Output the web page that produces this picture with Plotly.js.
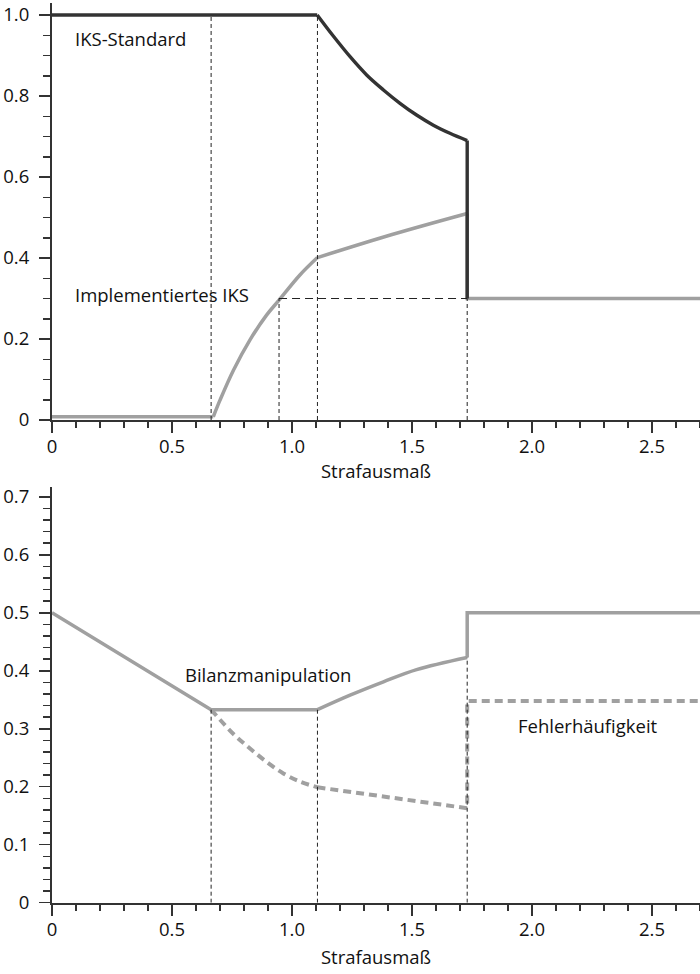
<!DOCTYPE html>
<html>
<head>
<meta charset="utf-8">
<script src="https://cdn.plot.ly/plotly-3.0.1.min.js"></script>
<style>html,body{margin:0;padding:0;background:#fff;}#chart{width:700px;height:974px;}</style>
</head>
<body>
<div id="chart"></div>
<script>
// ---- Data ----
// Top panel: IKS-Standard (dark) — flat part, curved part, drop
var stdFlatX = [0, 1.105];
var stdFlatY = [1.0, 1.0];
var stdCurveX = [1.105, 1.172, 1.242, 1.311, 1.381, 1.45, 1.519, 1.589, 1.658, 1.73];
var stdCurveY = [1.0, 0.948, 0.897, 0.852, 0.815, 0.782, 0.753, 0.728, 0.708, 0.690];
var stdDropX = [1.73, 1.73];
var stdDropY = [0.690, 0.30];
// Top panel: Implementiertes IKS (gray)
var implFlatX = [0, 0.672];
var implFlatY = [0.008, 0.008];
var implCurveX = [0.672, 0.70, 0.756, 0.825, 0.894, 0.946, 1.033, 1.106];
var implCurveY = [0.008, 0.049, 0.123, 0.198, 0.259, 0.296, 0.358, 0.401];
var implUpperX = [1.106, 1.417, 1.73];
var implUpperY = [0.401, 0.458, 0.510];
var implTailX = [1.73, 1.73, 2.7];
var implTailY = [0.510, 0.30, 0.30];
// Top panel guide lines
var topGuideVX = [0.663, 1.106];      // from 0 to 1.0
var topGuideVTop = 1.0;
var topGuide2X = [0.946, 1.73];       // from 0 to 0.3
var topGuide2Top = 0.30;

// Bottom panel: Bilanzmanipulation (solid gray)
var bilLineX = [0, 0.663, 1.106];
var bilLineY = [0.5, 0.333, 0.333];
var bilCurveX = [1.106, 1.242, 1.381, 1.519, 1.73];
var bilCurveY = [0.333, 0.358, 0.381, 0.402, 0.423];
var bilTailX = [1.73, 1.73, 2.7];
var bilTailY = [0.423, 0.50, 0.50];
// Bottom panel: Fehlerhäufigkeit (dashed gray)
var fehCurveX = [0.663, 0.756, 0.825, 0.894, 0.964, 1.033, 1.106];
var fehCurveY = [0.333, 0.291, 0.266, 0.243, 0.223, 0.209, 0.199];
var fehTailX = [1.106, 1.417, 1.73, 1.73, 2.7];
var fehTailY = [0.199, 0.181, 0.163, 0.348, 0.348];
// Bottom panel guide lines
var botGuideX = [0.663, 1.106, 1.73];
var botGuideTop = [0.333, 0.333, 0.423];

// Ticks
var xTickVals = [0, 0.5, 1.0, 1.5, 2.0, 2.5];
var xTickText = ["0", "0.5", "1.0", "1.5", "2.0", "2.5"];
var yTopVals = [0, 0.2, 0.4, 0.6, 0.8, 1.0];
var yTopText = ["0", "0.2", "0.4", "0.6", "0.8", "1.0"];
var yBotVals = [0, 0.1, 0.2, 0.3, 0.4, 0.5, 0.6, 0.7];
var yBotText = ["0", "0.1", "0.2", "0.3", "0.4", "0.5", "0.6", "0.7"];

var xTitle = "Strafausmaß";
var labels = {
  std: "IKS-Standard",
  impl: "Implementiertes IKS",
  bil: "Bilanzmanipulation",
  feh: "Fehlerhäufigkeit"
};

// ---- Build traces ----
var DARK = "#333333", GRAY = "#a0a0a0", GUIDE = "#222222";
var FONT = "Open Sans, sans-serif";
var FS = 18.5;

function vGuides(xs, tops, xa, ya, dash) {
  var gx = [], gy = [];
  for (var i = 0; i < xs.length; i++) {
    var t = Array.isArray(tops) ? tops[i] : tops;
    gx.push(xs[i], xs[i], null);
    gy.push(0, t, null);
  }
  return {x: gx, y: gy, xaxis: xa, yaxis: ya, mode: "lines", hoverinfo: "skip",
          line: {color: GUIDE, width: 1, dash: dash}, connectgaps: false};
}
function seg(xs, ys, xa, ya, color, width, shape, dash) {
  var ln = {color: color, width: width, shape: shape || "linear"};
  if (shape === "spline") ln.smoothing = 1;
  if (dash) ln.dash = dash;
  return {x: xs, y: ys, xaxis: xa, yaxis: ya, mode: "lines", line: ln};
}

var traces = [
  seg(implFlatX, implFlatY, "x", "y", GRAY, 3.5),
  seg(implCurveX, implCurveY, "x", "y", GRAY, 3.5, "spline"),
  seg(implUpperX, implUpperY, "x", "y", GRAY, 3.5, "spline"),
  seg(implTailX, implTailY, "x", "y", GRAY, 3.5),
  seg(stdFlatX, stdFlatY, "x", "y", DARK, 3.4),
  seg(stdCurveX, stdCurveY, "x", "y", DARK, 3.4, "spline"),
  seg(stdDropX, stdDropY, "x", "y", DARK, 3.4),
  vGuides(topGuideVX, topGuideVTop, "x", "y", "4px,3px"),
  vGuides(topGuide2X, topGuide2Top, "x", "y", "4px,3px"),
  {x: [topGuide2X[0], topGuide2X[1]], y: [topGuide2Top, topGuide2Top], xaxis: "x", yaxis: "y",
   mode: "lines", line: {color: GUIDE, width: 1, dash: "8px,5px"}},
  seg(bilLineX, bilLineY, "x2", "y2", GRAY, 3.5),
  seg(bilCurveX, bilCurveY, "x2", "y2", GRAY, 3.5, "spline"),
  seg(bilTailX, bilTailY, "x2", "y2", GRAY, 3.5),
  seg(fehCurveX, fehCurveY, "x2", "y2", GRAY, 4, "spline", "8px,5px"),
  seg(fehTailX, fehTailY, "x2", "y2", GRAY, 4, "linear", "8px,5px"),
  vGuides(botGuideX, botGuideTop, "x2", "y2", "4px,3px")
];

function xAxis(anchor, titleStandoff) {
  return {
    anchor: anchor, domain: [0, 1], range: [0, 2.7], fixedrange: true,
    showgrid: false, zeroline: false, showline: true, linecolor: DARK, linewidth: 2,
    tickmode: "array", tickvals: xTickVals, ticktext: xTickText,
    ticks: "outside", ticklen: 11, tickwidth: 1.5, tickcolor: DARK,
    ticklabelstandoff: -2,
    minor: {tickmode: "linear", tick0: 0, dtick: 0.1, ticks: "outside", ticklen: 6, tickwidth: 1.5, tickcolor: DARK, showgrid: false},
    tickfont: {family: FONT, size: FS, color: "#111"},
    title: {text: xTitle, font: {family: FONT, size: FS, color: "#111"}, standoff: titleStandoff}
  };
}
function yAxis(anchor, domain, range, vals, text, minorStep) {
  return {
    anchor: anchor, domain: domain, range: range, fixedrange: true,
    showgrid: false, zeroline: false, showline: true, linecolor: DARK, linewidth: 2,
    tickmode: "array", tickvals: vals, ticktext: text,
    ticks: "outside", ticklen: 11, tickwidth: 1.5, tickcolor: DARK,
    ticklabelstandoff: 6,
    minor: {tickmode: "linear", tick0: 0, dtick: minorStep, ticks: "outside", ticklen: 7, tickwidth: 1.5, tickcolor: DARK, showgrid: false},
    tickfont: {family: FONT, size: FS, color: "#111"}
  };
}

var H = 974;
var layout = {
  width: 700, height: 974,
  margin: {l: 52, r: 0, t: 0, b: 0},
  paper_bgcolor: "#fff", plot_bgcolor: "#fff",
  showlegend: false,
  font: {family: FONT, size: FS, color: "#111"},
  xaxis: xAxis("y", 7),
  yaxis: yAxis("x", [1 - 420 / H, 1 - 2.85 / H], [0, 1.03], yTopVals, yTopText, 0.05),
  xaxis2: xAxis("y2", 11),
  yaxis2: yAxis("x2", [1 - 902.7 / H, 1 - 487 / H], [0, 0.717], yBotVals, yBotText, 0.02),
  annotations: [
    {text: labels.std, x: 0.088, y: 0.943, xref: "x", yref: "y", xanchor: "left", yanchor: "middle", showarrow: false, font: {family: FONT, size: FS, color: "#111"}},
    {text: labels.impl, x: 0.088, y: 0.309, xref: "x", yref: "y", xanchor: "left", yanchor: "middle", showarrow: false, font: {family: FONT, size: FS, color: "#111"}},
    {text: labels.bil, x: 0.546, y: 0.393, xref: "x2", yref: "y2", xanchor: "left", yanchor: "middle", showarrow: false, font: {family: FONT, size: FS, color: "#111"}},
    {text: labels.feh, x: 1.935, y: 0.306, xref: "x2", yref: "y2", xanchor: "left", yanchor: "middle", showarrow: false, font: {family: FONT, size: FS, color: "#111"}}
  ]
};

Plotly.newPlot("chart", traces, layout, {displayModeBar: false, staticPlot: true});
</script>
</body>
</html>
